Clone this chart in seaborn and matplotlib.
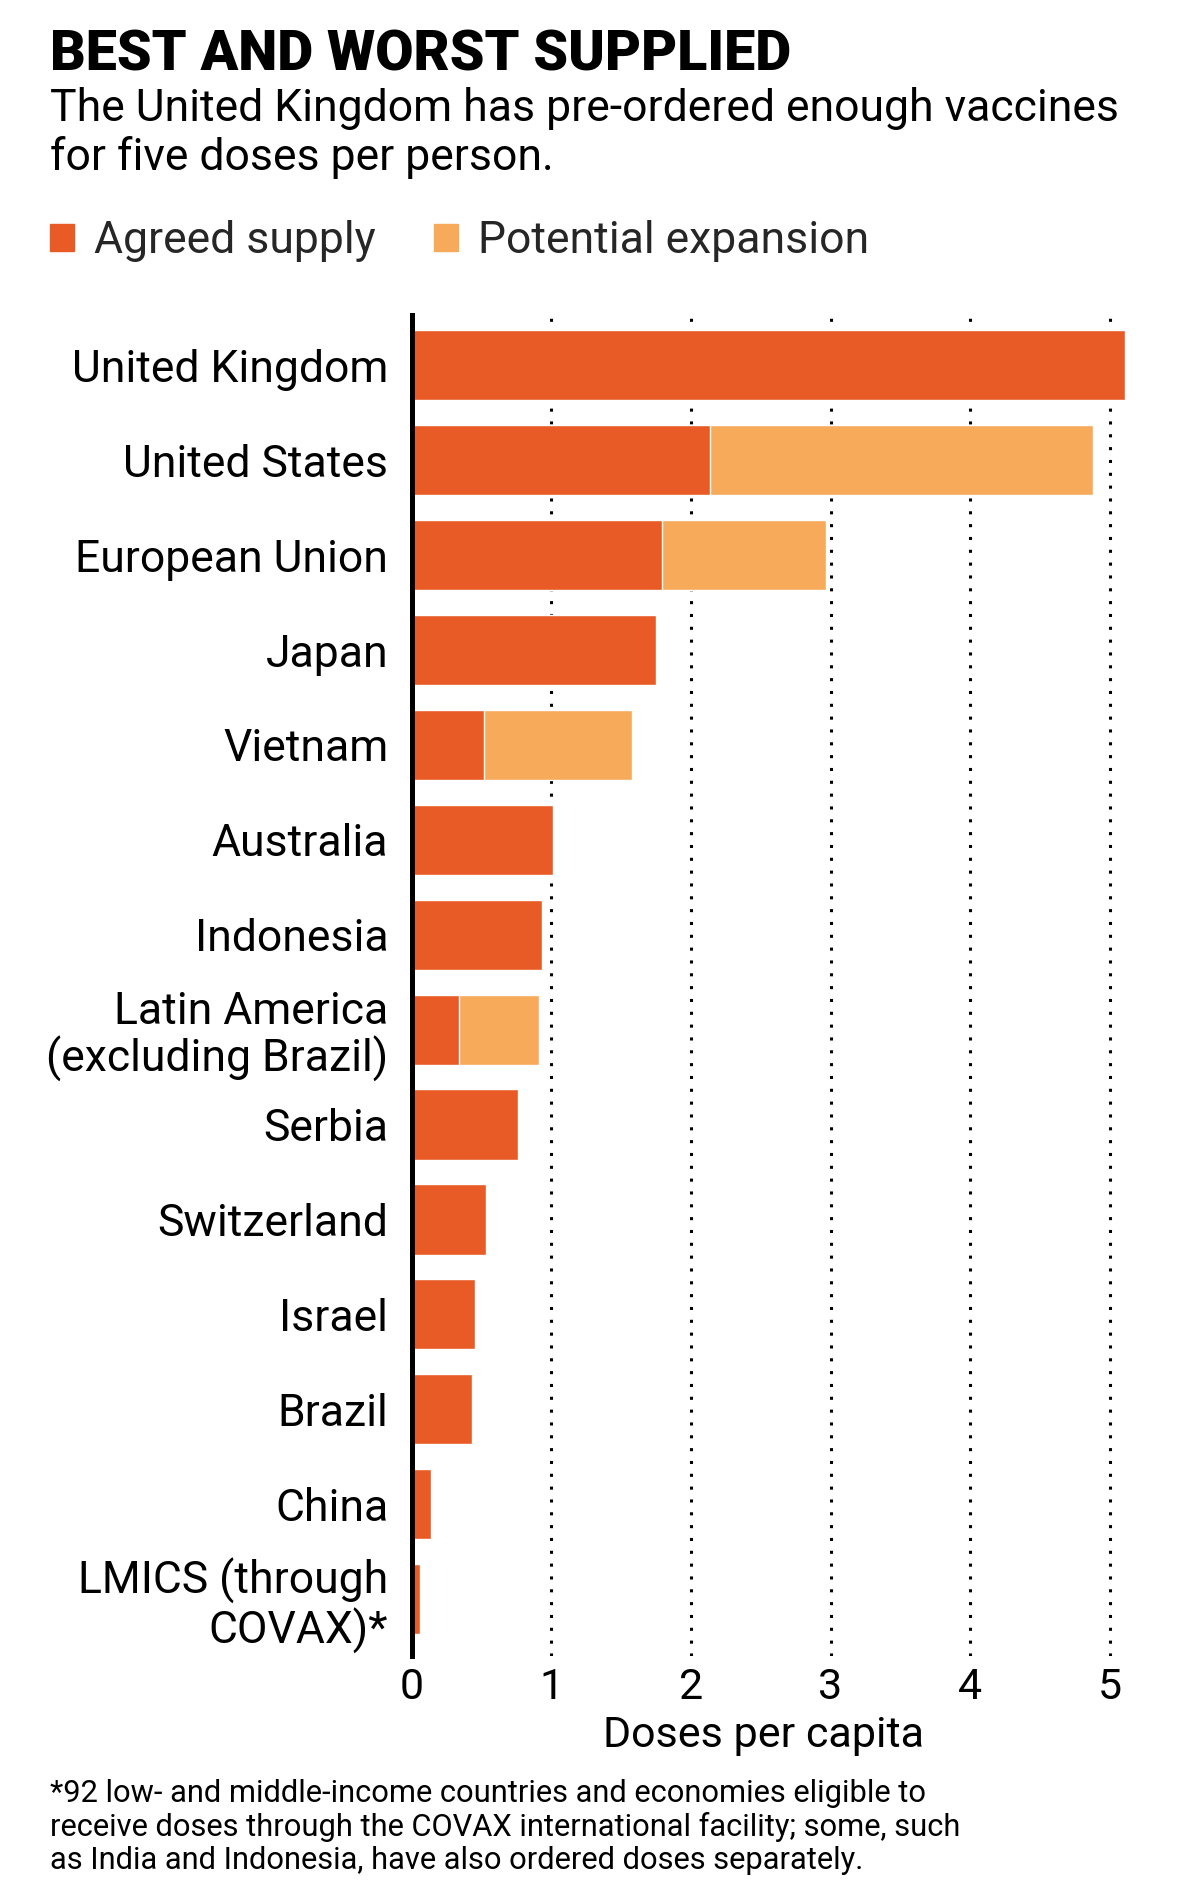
import matplotlib
matplotlib.use("Agg")
import matplotlib.pyplot as plt
import seaborn as sns
import pandas as pd
from matplotlib.patches import Patch

categories = ["United Kingdom", "United States", "European Union", "Japan", "Vietnam",
              "Australia", "Indonesia", "Latin America\n(excluding Brazil)", "Serbia",
              "Switzerland", "Israel", "Brazil", "China", "LMICS (through\nCOVAX)*"]
agreed = [5.11, 2.14, 1.79, 1.75, 0.52, 1.01, 0.93, 0.34, 0.76, 0.53, 0.45, 0.43, 0.14, 0.06]
total = [5.11, 4.88, 2.97, 1.75, 1.58, 1.01, 0.93, 0.91, 0.76, 0.53, 0.45, 0.43, 0.14, 0.06]
xticks = [0, 1, 2, 3, 4, 5]

C_AGREED = "#E95B26"
C_EXP = "#F6AA5A"

sns.set_theme(style="white")
FONT = ["Roboto", "DejaVu Sans"]
plt.rcParams["font.family"] = FONT

df = pd.DataFrame({"country": categories, "agreed": agreed, "total": total})

fig = plt.figure(figsize=(11.9, 18.98), dpi=100)
ax = fig.add_axes([0.346, 0.1275, 0.61, 0.7065])

for x in xticks[1:]:
    ax.axvline(x, color="black", linestyle=(0, (1, 3.2)), linewidth=2.2, zorder=0)

sns.barplot(data=df, x="total", y="country", color=C_EXP, orient="h", width=0.74,
            saturation=1, ax=ax, zorder=2)
sns.barplot(data=df, x="agreed", y="country", color=C_AGREED, orient="h", width=0.74,
            saturation=1, ax=ax, zorder=3)

ax.set_xlim(0, 5.2)
ax.set_ylim(13.6, -0.53)
ax.set_xticks(xticks)
ax.set_xticklabels([str(t) for t in xticks])
ax.tick_params(axis="x", length=0, labelsize=31, colors="black", pad=8)
ax.tick_params(axis="y", length=0, labelsize=32, colors="black", pad=17)
for lab in ax.get_yticklabels():
    lab.set_linespacing(1.1)
for s in ["top", "right", "bottom"]:
    ax.spines[s].set_visible(False)
ax.spines["left"].set_color("black")
ax.spines["left"].set_linewidth(3.6)
ax.spines["left"].set_zorder(5)
ax.set_ylabel("")
ax.set_xlabel("Doses per capita", fontsize=31, color="black")
ax.xaxis.set_label_coords(0.485, -0.044)

fig.text(0.042, 0.963, "BEST AND WORST SUPPLIED", fontsize=40, fontweight="black",
         family=["Roboto", "DejaVu Sans"], va="baseline", ha="left", color="black")
fig.text(0.042, 1 - 121 / 1898, "The United Kingdom has pre-ordered enough vaccines",
         fontsize=32, va="baseline", ha="left", color="black")
fig.text(0.042, 1 - 170 / 1898, "for five doses per person.",
         fontsize=32, va="baseline", ha="left", color="black")

handles = [Patch(color=C_AGREED, label="Agreed supply"),
           Patch(color=C_EXP, label="Potential expansion")]
fig.legend(handles=handles, loc="upper left", bbox_to_anchor=(0.042, 1 - 220 / 1898), ncol=2,
           frameon=False, fontsize=32, handlelength=0.55, handleheight=0.55,
           handletextpad=0.45, columnspacing=1.3, borderaxespad=0, borderpad=0)

foot = ["*92 low- and middle-income countries and economies eligible to",
        "receive doses through the COVAX international facility; some, such",
        "as India and Indonesia, have also ordered doses separately."]
for i, line in enumerate(foot):
    fig.text(0.042, 1 - (1802 + 33.6 * i) / 1898, line, fontsize=22.2,
             va="baseline", ha="left", color="black")

fig.savefig("out.png", dpi=100, facecolor="white")
